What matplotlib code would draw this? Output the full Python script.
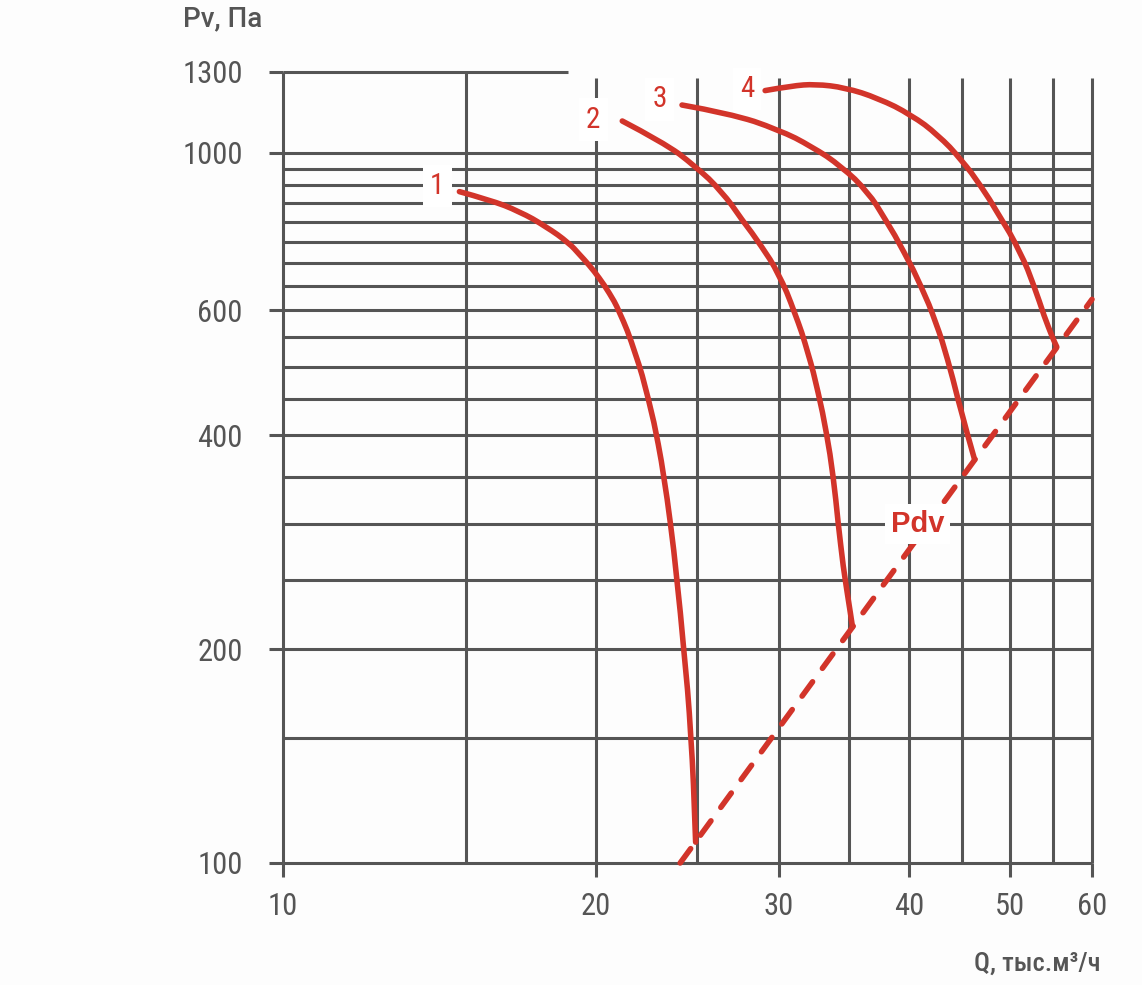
import numpy as np
import matplotlib
matplotlib.use('Agg')
import matplotlib.pyplot as plt
from matplotlib.ticker import NullLocator
from matplotlib.path import Path
from matplotlib.patches import PathPatch

# fan curves, Q in thousand m3/h, Pv in Pa
q1 = [14.78, 15.79, 16.88, 17.89, 18.85, 19.27, 19.7, 20.14, 20.6, 21.04, 21.84, 22.48,
      22.99, 23.24, 23.59, 23.93, 24.29, 24.70, 24.94]
p1 = [882, 859, 827, 788, 746, 720, 695, 667, 635, 601, 522, 449,
      386, 350, 301, 250, 200, 151, 107]

q2 = [21.2, 23.15, 24.93, 26.43, 27.63, 28.87, 29.96, 31.08, 32.01, 32.73, 33.33,
      33.83, 34.2, 34.58, 34.97, 35.30]
p2 = [1109, 1037, 957, 882, 805, 738, 677, 595, 522, 459, 403,
      350, 300, 261, 235, 215]

q3 = [24.2, 26.83, 29.96, 32.24, 34.44, 36.54, 37.92, 39.63, 41.11, 42.49, 43.6,
      44.59, 45.58, 46.26]
p3 = [1168, 1137, 1078, 1021, 957, 880, 808, 722, 648, 576, 511,
      449, 399, 370]

q4 = [29.09, 30.86, 32.49, 34.7, 37.35, 40.2, 42.65, 44.92, 46.94, 48.68,
      51.27, 52.8, 53.98, 54.98, 55.5]
p4 = [1224, 1243, 1250, 1236, 1194, 1131, 1060, 978, 897, 823,
      722, 648, 588, 549, 533]

# dynamic pressure line
pdv_q = [24.1, 60.0]
pdv_p = [100, 622]

curve_names = ['1', '2', '3', '4']
x_ticks = [10, 20, 30, 40, 50, 60]
y_ticks = [100, 200, 400, 600, 1000, 1300]
x_grid = [10, 15, 20, 25, 30, 35, 40, 45, 50, 55, 60]
y_grid = [100, 150, 200, 250, 300, 350, 400, 450, 500, 550, 600, 650, 700,
          750, 800, 850, 900, 950, 1000]

grey = '#555555'
red = '#d2342a'
narrow = ['Roboto Condensed', 'DejaVu Sans']


def smooth_path(q, p):
    # quadratic bezier through midpoints, the read points act as control points
    pts = list(zip(q, p))
    verts = [pts[0]]
    codes = [Path.MOVETO]
    for i in range(1, len(pts) - 1):
        mid = ((pts[i][0] + pts[i + 1][0]) / 2, (pts[i][1] + pts[i + 1][1]) / 2)
        verts += [pts[i], mid]
        codes += [Path.CURVE3, Path.CURVE3]
    verts.append(pts[-1])
    codes.append(Path.LINETO)
    return Path(verts, codes)


fig = plt.figure(figsize=(11.42, 9.85), dpi=100, facecolor='#fdfdfd')
ax = fig.add_axes([283/1142, 122/985, 809/1142, 791/985])
ax.set_facecolor('#fdfdfd')
ax.set_xscale('log')
ax.set_yscale('log')
ax.set_xlim(10, 60)
ax.set_ylim(100, 1300)
for s in ax.spines.values():
    s.set_visible(False)

# grid
ax.hlines(y_grid, 10, 60, colors=grey, lw=2.2, zorder=1, clip_on=False)
ax.hlines(1300, 10, 18.8, colors=grey, lw=2.2, zorder=1, clip_on=False)
for xv in x_grid:
    top = 1300 if xv < 20 else 1275
    ax.vlines(xv, 100, top, colors=grey, lw=2.2, zorder=1, clip_on=False)

# ticks
ax.xaxis.set_minor_locator(NullLocator())
ax.yaxis.set_minor_locator(NullLocator())
ax.set_xticks(x_ticks)
ax.set_xticklabels([str(v) for v in x_ticks])
ax.set_yticks(y_ticks)
ax.set_yticklabels([str(v) for v in y_ticks])
ax.tick_params(length=10, width=2.2, color=grey, labelcolor=grey, labelsize=22)
ax.tick_params(axis='x', pad=11)
ax.tick_params(axis='y', pad=19)
for lab in ax.get_xticklabels() + ax.get_yticklabels():
    lab.set_family(narrow)
    lab.set_stretch('condensed')

# curves
curves = [(q1, p1), (q2, p2), (q3, p3), (q4, p4)]
for q, p in curves:
    patch = PathPatch(smooth_path(q, p), fill=False, ec=red, lw=4,
                      capstyle='round', joinstyle='round', zorder=3, clip_on=False)
    ax.add_patch(patch)

ax.plot(pdv_q, pdv_p, color=red, lw=4, ls=(0, (3.2, 3.0)), dash_capstyle='round',
        zorder=3, clip_on=False)

# curve numbers
offsets = [(-16, 4), (-21, 1), (-16, 4), (-13, 1)]
for name, (q, p), off in zip(curve_names, curves, offsets):
    ax.annotate(name, (q[0], p[0]), xytext=off, textcoords='offset points',
                ha='center', va='center', color=red, fontsize=21, family=narrow,
                stretch='condensed',
                bbox=dict(boxstyle='square,pad=0.25', fc='white', ec='none'),
                zorder=4)

ax.text(40.8, 300, 'Pdv', color=red, fontsize=21, fontweight='bold',
        family=['Liberation Sans', 'DejaVu Sans'], ha='center', va='center',
        bbox=dict(boxstyle='square,pad=0.2', fc='white', ec='none'), zorder=4)

fig.text(183/1142, 1 - 19/985, 'Pv, Па', color=grey, fontsize=20, fontweight='medium',
         family=['Roboto', 'DejaVu Sans'], ha='left', va='center')
fig.text(1100/1142, 1 - 964/985, 'Q, тыс.м³/ч', color=grey, fontsize=19,
         fontweight='medium', family=narrow, stretch='condensed', ha='right', va='center')

fig.savefig('out.png', dpi=100, facecolor=fig.get_facecolor())
